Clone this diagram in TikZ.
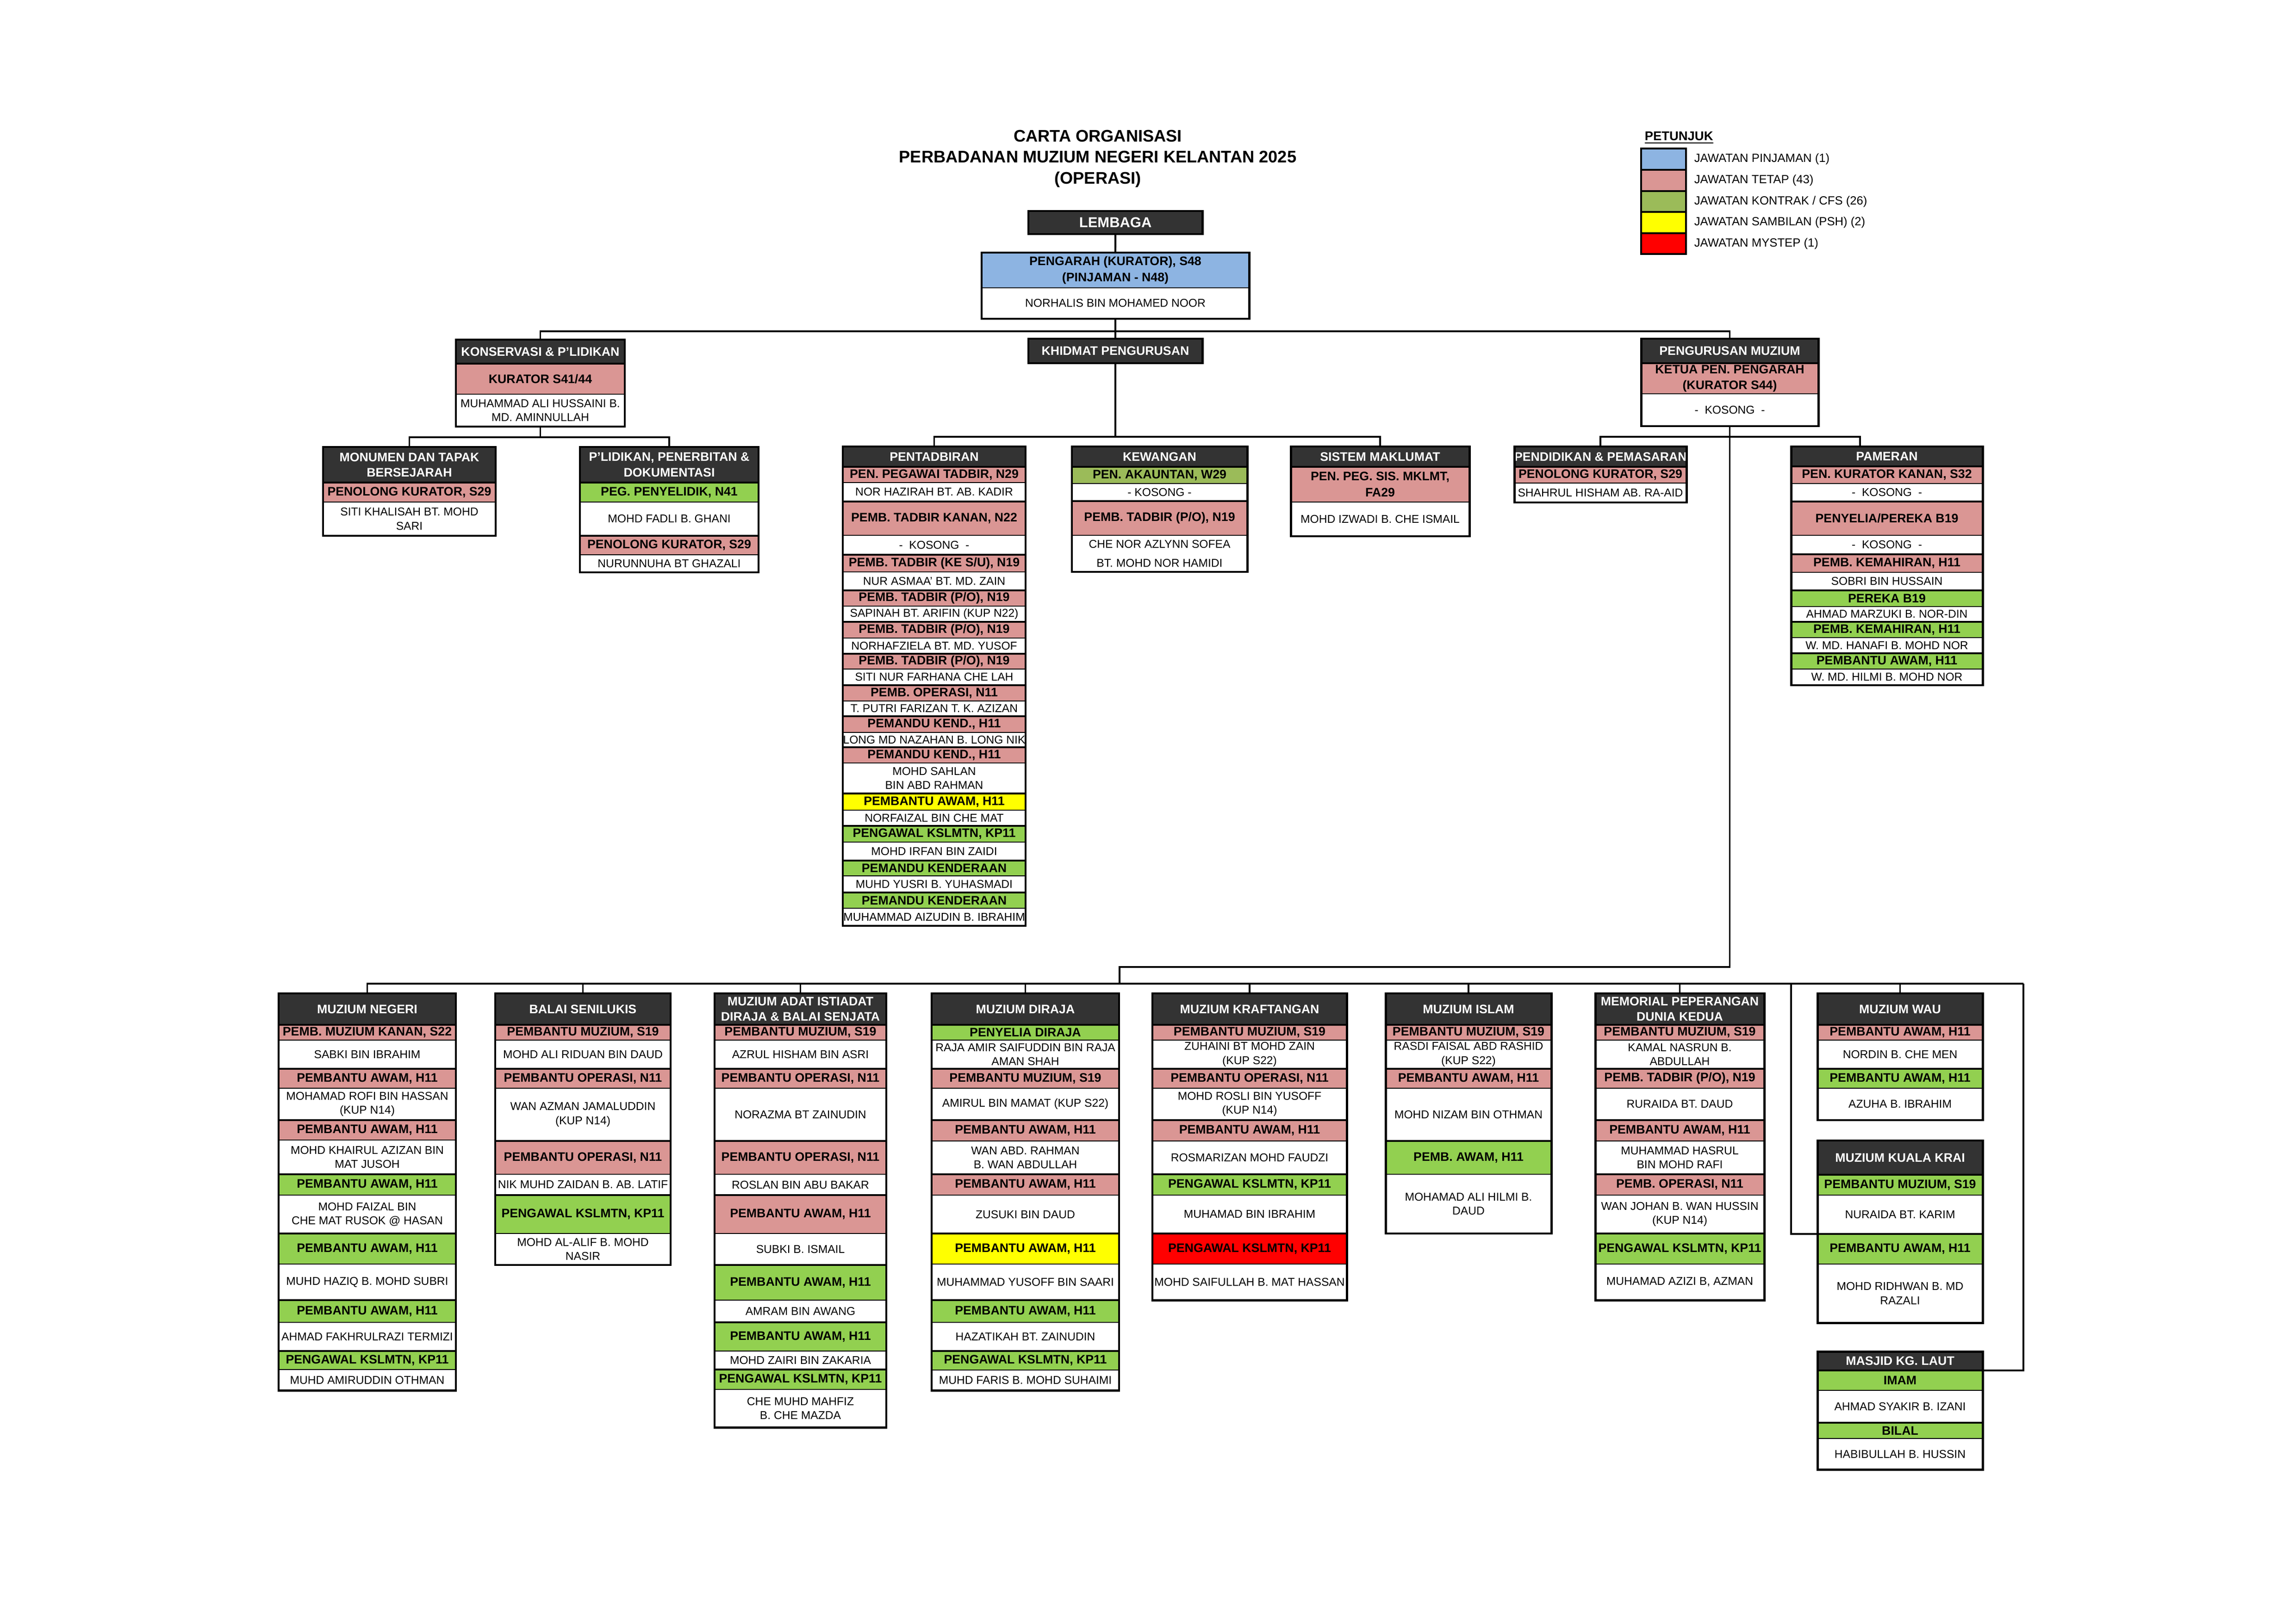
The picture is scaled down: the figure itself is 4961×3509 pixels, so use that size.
\documentclass[tikz,border=0pt]{standalone}
\usepackage{fontspec}
\setmainfont{Liberation Sans}
\usetikzlibrary{calc}
\definecolor{hdrc}{HTML}{333333}
\definecolor{pinkc}{HTML}{DA9694}
\definecolor{greenc}{HTML}{92D050}
\definecolor{oliv}{HTML}{9BBB59}
\definecolor{bluec}{HTML}{8DB4E2}
\definecolor{yellc}{HTML}{FFFF00}
\definecolor{redc}{HTML}{FF0000}
\newcommand\rkfont{\bfseries\fontsize{7.6}{9.8}\selectfont}
\newcommand\hdfont{\bfseries\fontsize{7.6}{9.5}\selectfont}
\newcommand\nmfont{\fontsize{7}{8.7}\selectfont}
\newcommand\lgfont{\fontsize{7.3}{8.7}\selectfont}
\tikzset{
  cellb/.style={draw=black, line width=0.4pt, inner sep=0pt, outer sep=0pt, align=center, anchor=north west},
  hd/.style={cellb, fill=hdrc, text=white, font=\hdfont},
  rk/.style={cellb, font=\rkfont, append after command={(\tikzlastnode.north west) edge[line width=1.1pt] (\tikzlastnode.north east)}},
  pk/.style={rk, fill=pinkc},
  gr/.style={rk, fill=greenc},
  gro/.style={rk, fill=oliv},
  yl/.style={rk, fill=yellc},
  rd/.style={rk, fill=redc},
  bl/.style={rk, fill=bluec},
  nm/.style={cellb, fill=white, font=\nmfont},
  frame/.style={draw=black, line width=1.4pt},
  conn/.style={draw=black, line width=1.1pt},
}
% prefix, x-left, x-right, y-top, y-bottom, rows {ybottom/style/text}
\newcommand\orgcol[6]{%
  \foreach \yb/\st/\tx [count=\i, remember=\yb as \ya (initially #4)] in {#6}{%
    \node[\st, minimum width={(#3-#2)*0.01cm}, minimum height={(\yb-\ya)*0.01cm}] (#1-\i) at (#2,\ya) {\tx};
  }%
  \draw[frame] (#2,#4) rectangle (#3,#5);
}
\begin{document}
\begin{tikzpicture}[x=0.01cm, y=-0.01cm]
\useasboundingbox (0,0) rectangle (4961,3509);

% title
\node[font=\bfseries\fontsize{10.3}{13}\selectfont, align=center, inner sep=0] (title) at (2372,343)
  {CARTA ORGANISASI\\PERBADANAN MUZIUM NEGERI KELANTAN 2025\\(OPERASI)};

% legend
\node[font=\bfseries\fontsize{7.8}{9}\selectfont, anchor=west, inner sep=0] (pet) at (3553,298) {\underline{PETUNJUK}};
\foreach \yb/\cl/\tx [count=\i, remember=\yb as \ya (initially 321)] in
  {367/bluec/{JAWATAN PINJAMAN (1)}, 413/pinkc/{JAWATAN TETAP (43)}, 458/oliv/{JAWATAN KONTRAK / CFS (26)},
   504/yellc/{JAWATAN SAMBILAN (PSH) (2)}, 549/redc/{JAWATAN MYSTEP (1)}}{
  \node[draw=black, line width=1.3pt, fill=\cl, minimum width=0.97cm, minimum height={(\yb-\ya)*0.01cm},
        anchor=north west, inner sep=0pt, outer sep=0pt] (lg\i) at (3546,\ya) {};
  \node[anchor=west, font=\lgfont, inner sep=0pt] (lgt\i) at ([xshift=0.17cm]lg\i.east) {\tx};
}

% top
\node[hd, font=\bfseries\fontsize{8.8}{10}\selectfont, minimum width=3.76cm, minimum height=0.5cm] (lem-1) at (2222,456) {LEMBAGA};
\draw[frame] (2222,456) rectangle (2598,506);
\orgcol{pgr}{2121}{2699}{546}{689}{622/bl/{PENGARAH (KURATOR), S48\\(PINJAMAN - N48)}, 689/nm/{NORHALIS BIN MOHAMED NOOR}}
\orgcol{khd}{2222}{2598}{732}{785}{785/hd/{KHIDMAT PENGURUSAN}}
\orgcol{kon}{985}{1350}{734}{922}{786/hd/{KONSERVASI \& P'LIDIKAN}, 852/pk/{KURATOR S41/44}, 922/nm/{MUHAMMAD ALI HUSSAINI B.\\MD. AMINNULLAH}}
\orgcol{pgm}{3546}{3929}{732}{921}{785/hd/{PENGURUSAN MUZIUM}, 851/pk/{KETUA PEN. PENGARAH\\(KURATOR S44)}, 921/nm/{-\ \ KOSONG\ \ -}}

% second level
\orgcol{mon}{698}{1071}{966}{1158}{1043/hd/{MONUMEN DAN TAPAK\\BERSEJARAH}, 1085/pk/{PENOLONG KURATOR, S29}, 1158/nm/{SITI KHALISAH BT. MOHD\\SARI}}
\orgcol{pld}{1253}{1639}{966}{1237}{1043/hd/{P'LIDIKAN, PENERBITAN \&\\DOKUMENTASI}, 1085/gr/{PEG. PENYELIDIK, N41}, 1158/nm/{MOHD FADLI B. GHANI}, 1199/pk/{PENOLONG KURATOR, S29}, 1237/nm/{NURUNNUHA BT GHAZALI}}
\orgcol{pen}{1821}{2216}{965}{2001}{1009/hd/{PENTADBIRAN}, 1043/pk/{PEN. PEGAWAI TADBIR, N29}, 1084/nm/{NOR HAZIRAH BT. AB. KADIR},
  1157/pk/{PEMB. TADBIR KANAN, N22}, 1199/nm/{-\ \ KOSONG\ \ -}, 1236/pk/{PEMB. TADBIR (KE S/U), N19}, 1276/nm/{NUR ASMAA' BT. MD. ZAIN},
  1310/pk/{PEMB. TADBIR (P/O), N19}, 1344/nm/{SAPINAH BT. ARIFIN (KUP N22)}, 1379/pk/{PEMB. TADBIR (P/O), N19}, 1413/nm/{NORHAFZIELA BT. MD. YUSOF},
  1446/pk/{PEMB. TADBIR (P/O), N19}, 1481/nm/{SITI NUR FARHANA CHE LAH}, 1515/pk/{PEMB. OPERASI, N11}, 1548/nm/{T. PUTRI FARIZAN T. K. AZIZAN},
  1583/pk/{PEMANDU KEND., H11}, 1615/nm/{LONG MD NAZAHAN B. LONG NIK}, 1649/pk/{PEMANDU KEND., H11}, 1715/nm/{MOHD SAHLAN\\BIN ABD RAHMAN},
  1751/yl/{PEMBANTU AWAM, H11}, 1785/nm/{NORFAIZAL BIN CHE MAT}, 1820/gr/{PENGAWAL KSLMTN, KP11}, 1860/nm/{MOHD IRFAN BIN ZAIDI},
  1893/gr/{PEMANDU KENDERAAN}, 1929/nm/{MUHD YUSRI B. YUHASMADI}, 1963/gr/{PEMANDU KENDERAAN}, 2001/nm/{MUHAMMAD AIZUDIN B. IBRAHIM}}
\orgcol{kew}{2316}{2695}{965}{1236}{1009/hd/{KEWANGAN}, 1045/gro/{PEN. AKAUNTAN, W29}, 1083/nm/{-\ KOSONG\ -}, 1157/pk/{PEMB. TADBIR (P/O), N19}, 1236/nm/{CHE NOR AZLYNN SOFEA\\[3pt]BT. MOHD NOR HAMIDI}}
\orgcol{sis}{2789}{3175}{965}{1159}{1009/hd/{SISTEM MAKLUMAT}, 1085/pk/{PEN. PEG. SIS. MKLMT,\\FA29}, 1159/nm/{MOHD IZWADI B. CHE ISMAIL}}
\orgcol{pdk}{3272}{3644}{965}{1086}{1009/hd/{PENDIDIKAN \& PEMASARAN}, 1044/pk/{PENOLONG KURATOR, S29}, 1086/nm/{SHAHRUL HISHAM AB. RA-AID}}
\orgcol{pam}{3870}{4284}{965}{1481}{1008/hd/{PAMERAN}, 1045/pk/{PEN. KURATOR KANAN, S32}, 1084/nm/{-\ \ KOSONG\ \ -}, 1157/pk/{PENYELIA/PEREKA B19},
  1198/nm/{-\ \ KOSONG\ \ -}, 1237/pk/{PEMB. KEMAHIRAN, H11}, 1276/nm/{SOBRI BIN HUSSAIN}, 1311/gr/{PEREKA B19}, 1344/nm/{AHMAD MARZUKI B. NOR-DIN},
  1378/gr/{PEMB. KEMAHIRAN, H11}, 1412/nm/{W. MD. HANAFI B. MOHD NOR}, 1446/gr/{PEMBANTU AWAM, H11}, 1481/nm/{W. MD. HILMI B. MOHD NOR}}

% bottom row
\orgcol{neg}{602}{985}{2147}{3005}{2215/hd/{MUZIUM NEGERI}, 2248/pk/{PEMB. MUZIUM KANAN, S22}, 2310/nm/{SABKI BIN IBRAHIM},
  2352/pk/{PEMBANTU AWAM, H11}, 2421/nm/{MOHAMAD ROFI BIN HASSAN\\(KUP N14)}, 2464/pk/{PEMBANTU AWAM, H11}, 2538/nm/{MOHD KHAIRUL AZIZAN BIN\\MAT JUSOH},
  2583/gr/{PEMBANTU AWAM, H11}, 2666/nm/{MOHD FAIZAL BIN\\CHE MAT RUSOK @ HASAN}, 2732/gr/{PEMBANTU AWAM, H11}, 2810/nm/{MUHD HAZIQ B. MOHD SUBRI},
  2858/gr/{PEMBANTU AWAM, H11}, 2920/nm/{AHMAD FAKHRULRAZI TERMIZI}, 2960/gr/{PENGAWAL KSLMTN, KP11}, 3005/nm/{MUHD AMIRUDDIN OTHMAN}}
\orgcol{bal}{1070}{1449}{2147}{2734}{2215/hd/{BALAI SENILUKIS}, 2248/pk/{PEMBANTU MUZIUM, S19}, 2310/nm/{MOHD ALI RIDUAN BIN DAUD},
  2352/pk/{PEMBANTU OPERASI, N11}, 2466/nm/{WAN AZMAN JAMALUDDIN\\(KUP N14)}, 2538/pk/{PEMBANTU OPERASI, N11}, 2583/nm/{NIK MUHD ZAIDAN B. AB. LATIF},
  2666/gr/{PENGAWAL KSLMTN, KP11}, 2734/nm/{MOHD AL-ALIF B. MOHD\\NASIR}}
\orgcol{adt}{1544}{1915}{2147}{3085}{2215/hd/{MUZIUM ADAT ISTIADAT\\DIRAJA \& BALAI SENJATA}, 2248/pk/{PEMBANTU MUZIUM, S19}, 2310/nm/{AZRUL HISHAM BIN ASRI},
  2352/pk/{PEMBANTU OPERASI, N11}, 2466/nm/{NORAZMA BT ZAINUDIN}, 2538/pk/{PEMBANTU OPERASI, N11}, 2583/nm/{ROSLAN BIN ABU BAKAR},
  2666/pk/{PEMBANTU AWAM, H11}, 2734/nm/{SUBKI B. ISMAIL}, 2810/gr/{PEMBANTU AWAM, H11}, 2858/nm/{AMRAM BIN AWANG},
  2920/gr/{PEMBANTU AWAM, H11}, 2960/nm/{MOHD ZAIRI BIN ZAKARIA}, 3003/gr/{PENGAWAL KSLMTN, KP11}, 3085/nm/{CHE MUHD MAHFIZ\\B. CHE MAZDA}}
\orgcol{dir}{2013}{2418}{2147}{3005}{2215/hd/{MUZIUM DIRAJA}, 2248/gr/{PENYELIA DIRAJA}, 2310/nm/{RAJA AMIR SAIFUDDIN BIN RAJA\\AMAN SHAH},
  2352/pk/{PEMBANTU MUZIUM, S19}, 2421/nm/{AMIRUL BIN MAMAT (KUP S22)}, 2466/pk/{PEMBANTU AWAM, H11}, 2538/nm/{WAN ABD. RAHMAN\\B. WAN ABDULLAH},
  2583/pk/{PEMBANTU AWAM, H11}, 2666/nm/{ZUSUKI BIN DAUD}, 2732/yl/{PEMBANTU AWAM, H11}, 2810/nm/{MUHAMMAD YUSOFF BIN SAARI},
  2858/gr/{PEMBANTU AWAM, H11}, 2920/nm/{HAZATIKAH BT. ZAINUDIN}, 2961/gr/{PENGAWAL KSLMTN, KP11}, 3005/nm/{MUHD FARIS B. MOHD SUHAIMI}}
\orgcol{krf}{2490}{2910}{2147}{2810}{2215/hd/{MUZIUM KRAFTANGAN}, 2248/pk/{PEMBANTU MUZIUM, S19}, 2310/nm/{ZUHAINI BT MOHD ZAIN\\(KUP S22)},
  2352/pk/{PEMBANTU OPERASI, N11}, 2421/nm/{MOHD ROSLI BIN YUSOFF\\(KUP N14)}, 2466/pk/{PEMBANTU AWAM, H11}, 2538/nm/{ROSMARIZAN MOHD FAUDZI},
  2583/gr/{PENGAWAL KSLMTN, KP11}, 2666/nm/{MUHAMAD BIN IBRAHIM}, 2732/rd/{PENGAWAL KSLMTN, KP11}, 2810/nm/{MOHD SAIFULLAH B. MAT HASSAN}}
\orgcol{isl}{2994}{3352}{2147}{2666}{2215/hd/{MUZIUM ISLAM}, 2248/pk/{PEMBANTU MUZIUM, S19}, 2310/nm/{RASDI FAISAL ABD RASHID\\(KUP S22)},
  2352/pk/{PEMBANTU AWAM, H11}, 2466/nm/{MOHD NIZAM BIN OTHMAN}, 2538/gr/{PEMB. AWAM, H11}, 2666/nm/{MOHAMAD ALI HILMI B.\\DAUD}}
\orgcol{mem}{3447}{3812}{2147}{2810}{2215/hd/{MEMORIAL PEPERANGAN\\DUNIA KEDUA}, 2248/pk/{PEMBANTU MUZIUM, S19}, 2310/nm/{KAMAL NASRUN B.\\ABDULLAH},
  2352/pk/{PEMB. TADBIR (P/O), N19}, 2421/nm/{RURAIDA BT. DAUD}, 2466/pk/{PEMBANTU AWAM, H11}, 2538/nm/{MUHAMMAD HASRUL\\BIN MOHD RAFI},
  2583/pk/{PEMB. OPERASI, N11}, 2666/nm/{WAN JOHAN B. WAN HUSSIN\\(KUP N14)}, 2732/gr/{PENGAWAL KSLMTN, KP11}, 2810/nm/{MUHAMAD AZIZI B, AZMAN}}
\orgcol{wau}{3927}{4284}{2147}{2421}{2215/hd/{MUZIUM WAU}, 2248/pk/{PEMBANTU AWAM, H11}, 2310/nm/{NORDIN B. CHE MEN}, 2352/gr/{PEMBANTU AWAM, H11}, 2421/nm/{AZUHA B. IBRAHIM}}
\orgcol{kk}{3927}{4284}{2465}{2859}{2539/hd/{MUZIUM KUALA KRAI}, 2583/gr/{PEMBANTU MUZIUM, S19}, 2667/nm/{NURAIDA BT. KARIM}, 2732/gr/{PEMBANTU AWAM, H11}, 2859/nm/{MOHD RIDHWAN B. MD\\RAZALI}}
\orgcol{msj}{3927}{4284}{2921}{3176}{2962/hd/{MASJID KG. LAUT}, 3005/gr/{IMAM}, 3075/nm/{AHMAD SYAKIR B. IZANI}, 3109/gr/{BILAL}, 3176/nm/{HABIBULLAH B. HUSSIN}}

% connectors
\draw[conn] (lem-1.south) -- (pgr-1.north);
\draw[conn] (kon-1.north) -- ++(0,-18) -| (pgm-1.north);
\draw[conn] (pgr-2.south) -- (khd-1.north);
\path (pen-1.north) ++(0,-21) coordinate (kbus);
\draw[conn] (khd-1.south) -- (khd-1.south |- kbus);
\draw[conn] (pen-1.north) -- (kbus) -| (sis-1.north);
\path (mon-1.north) ++(0,-21) coordinate (kbus2);
\draw[conn] (kon-3.south) -- (kon-3.south |- kbus2);
\draw[conn] (mon-1.north) -- (kbus2) -| (pld-1.north);
\path (pdk-1.north) ++(0,-21) coordinate (pbus);
\draw[conn] (pgm-3.south) -- (pgm-3.south |- pbus);
\draw[conn] (pdk-1.north) -- (pbus) -| ([xshift=-0.58cm]pam-1.north);
\coordinate (j1) at (2419,2090);
\coordinate (bus) at (4372,2126);
\draw[conn] (pgm-3.south) |- (j1) -- (j1 |- bus);
\draw[conn] (neg-1.north) |- (bus);
\foreach \c in {bal,adt,dir,krf,isl,mem,wau}{\draw[conn] (\c-1.north) -- (\c-1.north |- bus);}
\draw[conn] (bus) |- (msj-1.south east);
\coordinate (kkj) at (3870,2126);
\draw[conn] (kkj) |- (kk-3.south west);
\end{tikzpicture}
\end{document}
